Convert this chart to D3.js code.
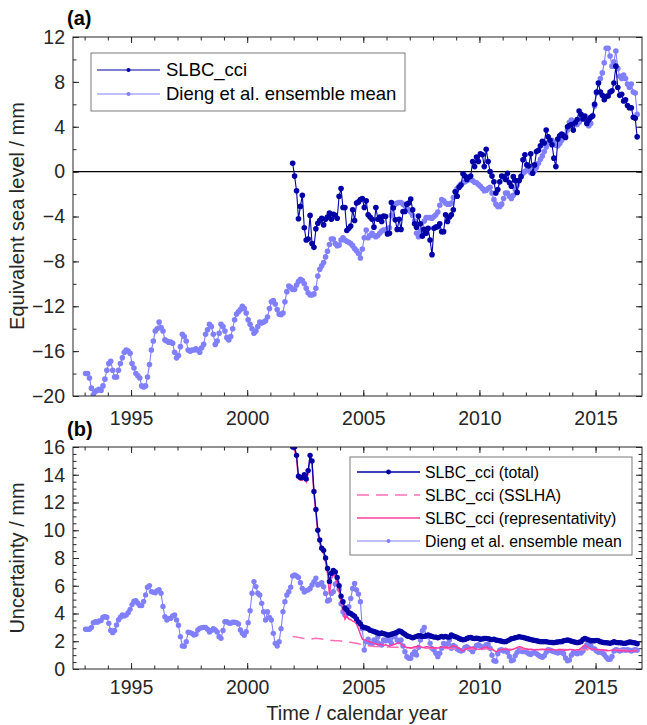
<!DOCTYPE html>
<html><head><meta charset="utf-8">
<script src="https://cdn.jsdelivr.net/npm/d3@7/dist/d3.min.js"></script>
<style>body{margin:0;background:#fff;} svg{display:block;font-family:"Liberation Sans",Arial,sans-serif;}</style>
</head><body><svg id="c" width="647" height="725"></svg>
<script>
// ---------------- DATA (monthly, first value = Jan 1993) ----------------
const startYear = 1993;
const slbcStartIndex = 107; // month index of the first SLBC_cci value
const diengGMSL = [
-18.0,-18.0,-18.4,-19.3,-19.9,-19.6,-19.5,-19.4,-19.5,-19.1,
-18.5,-17.7,-17.1,-16.9,-17.7,-18.3,-18.3,-17.7,-17.1,-16.6,
-16.1,-15.9,-16.0,-16.2,-17.1,-17.5,-18.0,-18.2,-18.4,-19.1,
-19.2,-19.1,-18.3,-17.2,-15.9,-15.1,-14.2,-14.0,-13.4,-13.9,
-14.2,-15.0,-15.1,-15.2,-15.2,-15.3,-16.1,-16.6,-16.4,-15.6,
-14.5,-14.7,-15.1,-15.9,-16.0,-15.9,-15.9,-15.8,-15.9,-16.1,
-15.7,-15.4,-14.5,-14.1,-13.6,-13.8,-14.5,-15.4,-15.1,-14.4,
-13.6,-13.8,-14.2,-14.8,-15.0,-14.7,-14.0,-13.2,-12.7,-12.5,
-12.3,-12.0,-12.2,-12.6,-13.2,-13.6,-14.0,-14.4,-14.2,-13.8,
-13.4,-13.5,-13.4,-13.3,-12.96,-12.2,-11.6,-11.5,-11.8,-12.3,
-12.7,-12.75,-12.6,-11.6,-10.7,-10.2,-10.3,-10.5,-10.5,-10.1,
-9.8,-9.6,-9.7,-10.0,-10.4,-10.8,-11.0,-11.0,-10.9,-10.4,
-9.3,-8.7,-8.4,-8.1,-7.6,-7.1,-6.5,-6.0,-6.0,-6.4,
-6.6,-6.55,-6.1,-5.9,-6.1,-6.2,-6.3,-6.4,-6.6,-6.85,
-7.05,-7.3,-7.7,-6.9,-5.9,-5.2,-5.9,-5.7,-5.5,-5.7,
-5.8,-5.7,-5.5,-5.3,-5.2,-5.2,-5.1,-5.0,-3.9,-3.2,
-2.9,-2.8,-2.75,-2.75,-2.9,-3.05,-3.25,-3.4,-3.6,-3.9,
-4.4,-5.5,-5.8,-5.3,-5.2,-4.4,-4.1,-4.1,-4.1,-4.15,
-4.0,-3.85,-3.6,-3.0,-2.5,-2.6,-2.8,-2.9,-2.9,-2.8,
-2.3,-1.8,-1.5,-1.3,-1.1,-1.0,-0.9,-0.8,-0.7,-0.7,
-0.8,-0.95,-1.0,-1.15,-1.3,-1.5,-1.7,-1.65,-1.5,-1.4,
-1.9,-2.5,-2.9,-3.1,-3.1,-2.9,-2.4,-1.9,-1.9,-2.2,
-2.4,-2.1,-1.6,-1.2,-0.8,-0.4,-0.15,0.0,0.15,0.1,
-0.1,-0.1,0.1,0.4,0.75,1.1,1.4,1.8,2.2,2.6,
2.7,2.8,2.6,2.35,2.3,2.5,2.8,3.1,3.3,3.7,
4.4,4.6,4.4,4.2,4.2,4.4,4.7,4.8,4.8,4.6,
4.1,4.3,5.0,5.85,7.0,7.9,8.3,8.8,9.7,11.0,
11.0,10.3,9.4,9.8,10.75,9.2,8.5,8.3,8.6,8.3,
7.8,7.5,7.8,7.1,7.0,5.1
];
const slbcGMSL = [
0.75,-0.4,-1.7,-4.2,-3.1,-2.1,-5.0,-6.1,-6.0,-3.9,
-6.4,-6.75,-5.1,-4.6,-4.35,-4.15,-4.75,-4.25,-4.05,-3.7,
-4.25,-3.8,-3.9,-4.15,-2.2,-1.5,-3.2,-3.2,-5.25,-5.05,
-4.85,-3.4,-4.35,-2.8,-2.7,-2.5,-2.4,-3.2,-2.6,-3.85,
-4.05,-4.25,-4.95,-3.2,-4.25,-4.05,-4.45,-3.95,-4.0,-5.55,
-5.5,-2.75,-3.25,-4.3,-5.15,-4.25,-5.15,-3.55,-3.55,-2.9,
-2.8,-2.45,-3.4,-4.65,-4.95,-3.95,-4.65,-5.75,-5.15,-5.5,
-5.05,-6.1,-7.4,-5.05,-4.95,-4.9,-4.65,-5.35,-5.35,-3.85,
-4.45,-4.05,-3.85,
-3.4,-1.8,-2.2,-1.4,-1.2,-0.2,-0.4,-0.7,-0.5,-0.4,
0.9,0.45,1.3,0.9,1.6,1.5,0.45,2.0,0.9,0.0,
-0.4,-0.9,-1.9,-1.6,-0.9,-0.4,-0.45,-0.7,-0.15,-1.0,
-1.3,-0.45,-0.8,-1.85,-0.8,-0.45,1.05,1.5,0.6,0.5,
1.6,-0.15,0.6,1.8,1.9,2.3,2.7,2.55,3.7,3.1,
2.8,2.4,1.2,0.45,2.9,3.2,3.35,3.2,3.05,4.0,
4.1,4.2,3.7,4.35,4.65,5.4,5.1,4.7,4.95,4.3,
4.6,4.85,4.95,6.0,7.1,7.9,7.1,6.8,6.4,6.7,
6.75,7.1,7.2,7.9,9.4,7.5,6.8,6.9,6.3,6.4,
5.9,5.7,5.7,4.85,4.75,3.1
];
const diengUnc = [
2.86,2.86,2.86,3.0,3.34,3.41,3.37,3.46,3.49,3.73,
3.77,3.73,3.29,2.77,2.62,2.77,3.17,3.53,3.73,3.89,
3.82,3.89,4.06,4.3,4.64,4.88,4.93,4.74,4.57,4.57,
4.86,5.34,5.89,6.01,5.58,5.53,5.5,5.65,5.72,5.46,
4.5,3.77,3.53,3.65,3.65,3.82,3.89,3.53,3.15,2.33,
1.66,1.64,1.97,2.65,2.62,2.57,2.45,2.5,2.81,2.93,
2.98,3.0,3.0,2.86,2.67,2.77,2.91,2.81,2.67,2.33,
2.21,2.77,3.41,3.41,3.32,3.29,3.37,3.37,3.34,3.25,
2.81,2.57,2.43,2.69,3.34,4.2,5.46,6.3,5.94,5.46,
5.33,4.73,4.13,3.53,4.13,3.72,3.53,2.57,1.85,1.66,
1.97,2.9,4.13,4.85,5.33,5.57,5.9,6.7,6.77,6.7,
6.6,6.22,5.81,5.55,5.65,5.7,5.81,6.05,6.29,6.55,
6.05,6.12,6.22,5.93,5.45,4.9,4.97,5.45,5.57,6.12,
6.22,5.74,4.7,4.13,3.89,3.96,4.49,5.09,5.8,6.17,
5.69,5.4,4.85,2.9,1.37,1.97,2.14,1.85,1.8,2.09,
1.97,2.33,1.8,1.73,2.09,2.04,2.14,2.06,1.85,2.33,
2.45,2.09,1.97,2.09,1.66,1.25,0.89,0.77,0.77,1.07,
1.25,1.01,1.56,2.09,2.76,3.0,2.4,2.33,1.85,1.49,
1.37,1.13,0.89,1.13,1.49,1.85,1.66,1.8,2.09,1.5,
1.7,1.6,1.45,1.35,1.3,1.35,1.55,1.6,1.5,1.4,
1.25,1.5,1.7,1.75,1.65,1.55,1.6,1.75,1.8,1.5,
1.0,0.6,0.55,1.1,1.35,1.4,1.3,1.35,1.2,0.9,
0.6,0.65,0.95,1.2,1.35,1.3,1.25,1.3,1.2,1.1,
1.05,1.15,1.2,1.1,1.0,0.9,0.85,0.95,1.2,1.4,
1.35,1.3,1.25,1.2,1.15,1.2,1.25,1.1,0.8,0.6,
0.65,1.0,1.2,1.15,1.1,1.2,1.15,1.3,1.55,1.75,
1.85,1.7,1.5,1.45,1.3,1.2,1.25,1.15,1.05,0.85,
0.7,0.7,0.9,1.3,1.4,1.35,1.3,1.35,1.4,1.35,
1.4,1.35,1.3,1.35,1.4,1.35
];
const slbcTotal = [
16.0,16.0,15.4,13.9,13.8,13.8,14.0,13.7,14.3,15.4,
15.0,12.8,11.5,10.0,9.3,8.7,8.55,8.0,7.25,6.3,
6.9,7.1,7.0,6.6,6.0,5.25,4.85,4.4,4.25,4.05,
4.0,3.9,3.8,3.6,3.4,3.25,3.05,3.0,2.95,2.9,
2.8,2.75,2.7,2.65,2.6,2.55,2.6,2.55,2.5,2.45,
2.45,2.5,2.55,2.6,2.65,2.75,2.7,2.6,2.5,2.4,
2.35,2.3,2.25,2.3,2.35,2.4,2.4,2.35,2.35,2.4,
2.45,2.4,2.35,2.3,2.3,2.25,2.3,2.35,2.3,2.35,
2.3,2.3,
2.45,2.38,2.33,2.28,2.2,2.14,2.1,2.12,2.2,2.25,
2.27,2.22,2.2,2.22,2.2,2.14,2.17,2.2,2.21,2.19,
2.14,2.12,2.14,2.09,2.06,2.04,2.0,1.97,1.97,2.03,
2.1,2.18,2.21,2.25,2.28,2.33,2.3,2.28,2.24,2.2,
2.16,2.12,2.09,2.06,2.04,2.0,1.97,1.97,1.97,1.97,
1.94,1.92,1.91,1.9,1.93,1.95,1.97,1.97,2.04,2.06,
2.09,2.06,2.0,1.97,1.93,1.9,1.93,1.97,2.13,2.21,
2.14,2.1,2.04,2.04,2.04,2.06,2.04,1.97,1.93,1.9,
1.9,1.88,1.85,1.9,1.97,1.92,1.9,1.9,1.88,1.85,
1.86,1.9,1.95,1.93,1.9,1.88,1.82
];
const slbcSSLHA = [
2.35,2.32,2.3,2.28,2.25,2.22,2.2,2.18,2.17,2.16,
2.17,2.2,2.21,2.2,2.18,2.16,2.14,2.12,2.1,2.08,
2.06,2.05,2.04,2.04,2.03,2.02,2.0,1.98,1.96,1.94,
1.92,1.9,1.88,1.85,1.82,1.78,1.75,1.72,1.7,1.68,
1.66,1.65,
1.63,1.62,1.62,1.61,1.6,1.6,1.59,1.58,1.58,1.57,
1.57,1.56,1.56,1.55,1.55,1.55,1.54,1.54,1.53,1.53,
1.53,1.52,1.52,1.52,1.51,1.51,1.5,1.5,1.5,1.5,
1.49,1.49,1.49,1.48,1.48,1.48,1.48,1.47,1.47,1.47,
1.47,1.46,1.46,1.46,1.46,1.45,1.45,1.45,1.45,1.45,
1.44,1.44,1.44,1.44,1.44,1.44,1.44,1.44,1.44,1.44,
1.43,1.43,1.43,1.43,1.43,1.43,1.43,1.43,1.43,1.43,
1.42,1.42,1.42,1.42,1.42,1.42,1.42,1.42,1.42,1.42,
1.41,1.41,1.41,1.41,1.41,1.41,1.41,1.41,1.41,1.41,
1.40,1.40,1.40,1.40,1.40,1.40,1.40,1.40,1.40,1.40,
1.39,1.39,1.39,1.39,1.39,1.39,1.39,1.39,1.39,1.39,
1.38,1.38,1.38,1.38,1.38,1.38,1.38,1.38,1.38,1.38,
1.37,1.37,1.37,1.37,1.37,1.37,1.37,1.37,1.37,1.37,
1.36,1.36,1.36,1.36,1.36,1.36,1.36
];
const slbcRepr = [
15.8,15.8,15.2,13.7,13.6,13.6,13.8,13.5,14.1,15.2,
14.8,12.6,11.3,9.8,9.1,8.5,8.3,7.7,6.9,5.4,
6.5,6.8,6.7,6.2,5.6,4.8,4.3,3.6,3.8,3.6,
3.55,3.45,3.4,3.25,2.9,2.5,2.15,2.1,2.05,2.0,
1.95,1.9,1.85,1.8,1.75,1.8,1.75,1.7,1.75,1.7,
1.65,1.7,1.75,1.8,1.85,1.9,1.8,1.7,1.6,1.55,
1.55,1.5,1.55,1.6,1.6,1.65,1.6,1.55,1.55,1.6,
1.6,1.55,1.55,1.5,1.55,1.5,1.55,1.6,1.55,1.6,
1.55,1.55,
1.6,1.7,1.62,1.55,1.5,1.35,1.3,1.4,1.48,1.52,
1.55,1.56,1.5,1.45,1.42,1.45,1.5,1.56,1.6,1.5,
1.45,1.42,1.35,1.25,1.3,1.38,1.4,1.4,1.42,1.4,
1.35,1.38,1.42,1.48,1.55,1.6,1.58,1.52,1.48,1.45,
1.4,1.42,1.4,1.38,1.4,1.38,1.4,1.42,1.4,1.42,
1.4,1.38,1.4,1.38,1.35,1.38,1.4,1.38,1.36,1.35,
1.38,1.4,1.4,1.38,1.36,1.38,1.4,1.5,1.62,1.72,
1.6,1.5,1.45,1.45,1.42,1.4,1.4,1.38,1.36,1.34,
1.32,1.32,1.34,1.36,1.38,1.36,1.34,1.32,1.32,1.32,
1.3,1.3,1.3,1.32,1.3,1.3,1.3
];
const yTicksA = [-20,-16,-12,-8,-4,0,4,8,12];
const yTicksB = [0,2,4,6,8,10,12,14,16];
const xTickLabels = [1995,2000,2005,2010,2015];
const legendA = ["SLBC_cci","Dieng et al. ensemble mean"];
const legendB = ["SLBC_cci (total)","SLBC_cci (SSLHA)","SLBC_cci (representativity)","Dieng et al. ensemble mean"];

// ---------------- STYLE ----------------
const C_DARK = "#0000a6", C_LIGHT = "#8080ff", C_PINK = "#ff3d9e", C_PINK2 = "#ff6fb7";
const AX = "#262626";
const svg = d3.select("#c");
const L = 73, R = 642;
const x = d3.scaleLinear().domain([1992.5, 2017]).range([L, R]);
const monthT = i => startYear + (i + 0.5) / 12;
const toPts = (arr, off) => arr.map((v, k) => ({t: monthT(k + off), v}));

function panel(top, bottom, ydom, majorY, minorStep, opts) {
  const y = d3.scaleLinear().domain(ydom).range([bottom, top]);
  const g = svg.append("g");
  const cid = "clip" + top;
  svg.append("clipPath").attr("id", cid).append("rect")
     .attr("x", L).attr("y", top).attr("width", R - L).attr("height", bottom - top);
  const minorY = d3.range(ydom[0], ydom[1] + 1e-9, minorStep);
  const years = d3.range(1993, 2017);
  const axStyle = sel => { sel.select(".domain").remove(); sel.selectAll("line").attr("stroke", AX);
    sel.selectAll("text").attr("fill", AX).style("font-size", "19.5px").style("font-family", '"Liberation Sans",Arial,sans-serif'); };
  g.append("g").attr("transform", `translate(0,${bottom})`)
    .call(d3.axisBottom(x).tickValues(years).tickFormat("").tickSize(-3.5)).call(axStyle);
  g.append("g").attr("transform", `translate(0,${bottom})`)
    .call(d3.axisBottom(x).tickValues(xTickLabels).tickFormat(d3.format("d")).tickSize(-6).tickPadding(opts.xPad)).call(axStyle);
  g.append("g").attr("transform", `translate(0,${top})`)
    .call(d3.axisTop(x).tickValues(years).tickFormat("").tickSize(-3.5)).call(axStyle);
  g.append("g").attr("transform", `translate(0,${top})`)
    .call(d3.axisTop(x).tickValues(xTickLabels).tickFormat("").tickSize(-6)).call(axStyle);
  g.append("g").attr("transform", `translate(${L},0)`)
    .call(d3.axisLeft(y).tickValues(minorY).tickFormat("").tickSize(-3.5)).call(axStyle);
  g.append("g").attr("transform", `translate(${L},0)`)
    .call(d3.axisLeft(y).tickValues(majorY).tickFormat(d3.format("d")).tickSize(-6).tickPadding(8)).call(axStyle);
  g.append("g").attr("transform", `translate(${R},0)`)
    .call(d3.axisRight(y).tickValues(minorY).tickFormat("").tickSize(-3.5)).call(axStyle);
  g.append("g").attr("transform", `translate(${R},0)`)
    .call(d3.axisRight(y).tickValues(majorY).tickFormat("").tickSize(-6)).call(axStyle);
  const plot = svg.append("g").attr("clip-path", `url(#${cid})`);
  svg.append("rect").attr("x", L).attr("y", top).attr("width", R - L).attr("height", bottom - top)
     .attr("fill", "none").attr("stroke", AX).attr("stroke-width", 1);
  return {y, plot};
}

function series(plot, y, pts, color, opt) {
  const line = d3.line().x(d => x(d.t)).y(d => y(d.v));
  plot.append("path").datum(pts).attr("d", line).attr("fill", "none")
    .attr("stroke", color).attr("stroke-width", opt.w || 1.1)
    .attr("stroke-dasharray", opt.dash || null);
  if (opt.r) plot.append("g").selectAll("circle").data(pts).join("circle")
    .attr("cx", d => x(d.t)).attr("cy", d => y(d.v)).attr("r", opt.r).attr("fill", color);
}

// ---------------- PANEL A ----------------
const A = panel(37, 396, [-20, 12], yTicksA, 2, {xPad: 15});
A.plot.append("line").attr("x1", L).attr("x2", R).attr("y1", A.y(0)).attr("y2", A.y(0))
  .attr("stroke", "#000").attr("stroke-width", 1.2);
series(A.plot, A.y, toPts(diengGMSL, 0), C_LIGHT, {r: 2.8});
series(A.plot, A.y, toPts(slbcGMSL, slbcStartIndex), C_DARK, {r: 2.8});

// ---------------- PANEL B ----------------
const B = panel(447, 669, [0, 16], yTicksB, 0.5, {xPad: 11});
series(B.plot, B.y, toPts(diengUnc, 0), C_LIGHT, {r: 2.7});
series(B.plot, B.y, toPts(slbcSSLHA, slbcStartIndex), C_PINK2, {w: 1.5, dash: "12,7"});
series(B.plot, B.y, toPts(slbcRepr, slbcStartIndex), C_PINK, {w: 1.5});
series(B.plot, B.y, toPts(slbcTotal, slbcStartIndex), C_DARK, {r: 2.7, w: 1.3});

// ---------------- LABELS ----------------
const txt = (xx, yy, s, size, extra) => {
  const t = svg.append("text").attr("x", xx).attr("y", yy).text(s).attr("fill", AX)
    .style("font-size", size + "px");
  if (extra) extra(t);
  return t;
};
txt(67, 25, "(a)", 20, t => t.style("font-weight", "bold").attr("fill", "#000"));
txt(67, 436, "(b)", 20, t => t.style("font-weight", "bold").attr("fill", "#000"));
txt(0, 0, "Equivalent sea level / mm", 20, t => t.attr("text-anchor", "middle")
  .attr("transform", "translate(24,216) rotate(-90)"));
txt(0, 0, "Uncertainty / mm", 20, t => t.attr("text-anchor", "middle")
  .attr("transform", "translate(24,558) rotate(-90)"));
txt(357, 720, "Time / calendar year", 20, t => t.attr("text-anchor", "middle"));

// ---------------- LEGENDS ----------------
function legend(bx, by, bw, bh, rows, items, fs, lx0, lx1, tx) {
  svg.append("rect").attr("x", bx).attr("y", by).attr("width", bw).attr("height", bh)
    .attr("fill", "#fff").attr("stroke", "#7a7a7a").attr("stroke-width", 1);
  items.forEach((it, k) => {
    const yy = rows[k];
    svg.append("line").attr("x1", lx0).attr("x2", lx1).attr("y1", yy).attr("y2", yy)
      .attr("stroke", it.c).attr("stroke-width", it.w || 1.1).attr("stroke-dasharray", it.dash || null);
    if (it.r) svg.append("circle").attr("cx", (lx0 + lx1) / 2).attr("cy", yy).attr("r", it.r).attr("fill", it.c);
    txt(tx, yy, it.label, fs, t => t.attr("dy", "0.35em").attr("fill", "#000"));
  });
}
legend(91, 53, 314, 58, [70, 94],
  [{label: legendA[0], c: C_DARK, r: 2}, {label: legendA[1], c: C_LIGHT, r: 2}],
  18.5, 97, 160, 166);
legend(350, 457, 282, 98, [472, 495, 518, 541],
  [{label: legendB[0], c: C_DARK, r: 2.4, w: 1.3},
   {label: legendB[1], c: C_PINK2, w: 1.5, dash: "12,7"},
   {label: legendB[2], c: C_PINK, w: 1.5},
   {label: legendB[3], c: C_LIGHT, r: 2}],
  15.8, 357, 420, 425);
</script></body></html>
